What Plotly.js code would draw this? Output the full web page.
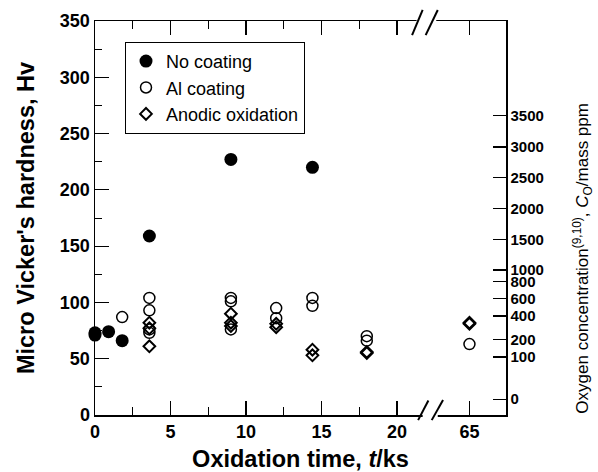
<!DOCTYPE html>
<html><head><meta charset="utf-8">
<script src="https://cdn.plot.ly/plotly-3.0.1.min.js"></script>
<style>html,body{margin:0;padding:0;background:#fff}#chart{width:598px;height:472px}</style>
</head><body><div id="chart"></div>
<script>
// ---- data ----
const noCoatTime = [0, 0, 0.9, 1.8, 3.6, 9, 14.4];
const noCoatHv   = [73, 71, 74, 66, 159, 227, 220];
const alTime = [1.8, 3.6, 3.6, 3.6, 3.6, 9, 9, 9, 12, 12, 14.4, 14.4, 18, 18, 65];
const alHv   = [87, 104, 93, 76, 73, 104, 101, 76, 95, 86, 104, 97, 70, 66, 63];
const anTime = [3.6, 3.6, 3.6, 9, 9, 9, 12, 12, 14.4, 14.4, 18, 18, 65, 65];
const anHv   = [82, 77, 61, 90, 82, 79, 81, 78, 58, 53, 56, 55, 82, 81];
const seriesNames = ['No coating', 'Al coating', 'Anodic oxidation'];
const xTickLabels = [0, 5, 10, 15, 20, 65];
const xMinorTicks = [2.5, 7.5, 12.5, 17.5];
const hvTicks = [0, 50, 100, 150, 200, 250, 300, 350];
const hvMinorTicks = [25, 75, 125, 175, 225, 275, 325];
// right axis: oxygen concentration labels and the hardness level each sits at
const oxyTickLabels = ['0','100','200','400','600','800','1000','1500','2000','2500','3000','3500'];
const oxyTickHv     = [14, 51.5, 67.2, 87.9, 103.7, 118.4, 128.8, 156.1, 183.6, 210.8, 238.1, 265.9];

// broken time axis: everything past 20 ks is shifted left
const BREAK_AT = 20, BREAK_SHIFT = 40.2;
const bx = t => (t > BREAK_AT ? t - BREAK_SHIFT : t);

const FONT = 'Liberation Sans, Arial, Helvetica, sans-serif';

const traces = [
  {x: noCoatTime.map(bx), y: noCoatHv, name: seriesNames[0], mode: 'markers', type: 'scatter',
   cliponaxis: false, marker: {symbol: 'circle', size: 13, color: '#000'}},
  {x: alTime.map(bx), y: alHv, name: seriesNames[1], mode: 'markers', type: 'scatter',
   cliponaxis: false, marker: {symbol: 'circle-open', size: 11, color: '#000', line: {width: 1.5, color: '#000'}}},
  {x: anTime.map(bx), y: anHv, name: seriesNames[2], mode: 'markers', type: 'scatter',
   cliponaxis: false, marker: {symbol: 'diamond-open', size: 9, color: '#000', line: {width: 2, color: '#000'}}},
  {x: [null], y: [null], yaxis: 'y2', showlegend: false, hoverinfo: 'skip', mode: 'markers', type: 'scatter'}
];

const layout = {
  width: 598, height: 472,
  margin: {l: 95, r: 92, t: 21, b: 57},
  paper_bgcolor: '#fff', plot_bgcolor: '#fff',
  font: {family: FONT, color: '#000'},
  showlegend: true,
  legend: {x: 0.073, y: 0.947, xanchor: 'left', yanchor: 'top', bgcolor: '#fff',
           bordercolor: '#000', borderwidth: 1, font: {family: FONT, size: 18, color: '#000'},
           tracegroupgap: 0},
  xaxis: {
    range: [0, 27.22], tickmode: 'array', tickvals: xTickLabels.map(bx), ticktext: xTickLabels.map(String),
    ticks: 'inside', ticklen: 14, tickwidth: 1.2, tickcolor: '#000',
    showline: true, linecolor: '#000', linewidth: 1.5, mirror: 'ticks',
    showgrid: false, zeroline: false,
    minor: {tickmode: 'array', tickvals: xMinorTicks, ticks: 'inside', ticklen: 8, tickwidth: 1, tickcolor: '#000', showgrid: false},
    tickfont: {family: FONT, size: 18, weight: 'bold', color: '#000'},
    title: {text: 'Oxidation time, <i>t</i>/ks', font: {family: FONT, size: 23.5, weight: 'bold', color: '#000'}, standoff: 10}
  },
  yaxis: {
    range: [0, 350], tickmode: 'array', tickvals: hvTicks,
    ticks: 'inside', ticklen: 14, tickwidth: 1.2, tickcolor: '#000',
    showline: true, linecolor: '#000', linewidth: 1.5,
    showgrid: false, zeroline: false,
    minor: {tickmode: 'array', tickvals: hvMinorTicks, ticks: 'inside', ticklen: 7, tickwidth: 1, tickcolor: '#000', showgrid: false},
    tickfont: {family: FONT, size: 18, weight: 'bold', color: '#000'},
    title: {text: "Micro Vicker's hardness, Hv", font: {family: FONT, size: 23.5, weight: 'bold', color: '#000'}, standoff: 18}
  },
  yaxis2: {
    overlaying: 'y', side: 'right', anchor: 'x', range: [0, 350],
    tickmode: 'array', tickvals: oxyTickHv, ticktext: oxyTickLabels,
    ticks: 'inside', ticklen: 13, tickwidth: 1.2, tickcolor: '#000',
    showline: true, linecolor: '#000', linewidth: 1.5,
    showgrid: false, zeroline: false,
    tickfont: {family: FONT, size: 15, weight: 'bold', color: '#000'}
  },
  annotations: [{
    xref: 'paper', yref: 'paper', x: 1.186, y: 0.398, xanchor: 'center', yanchor: 'middle',
    textangle: -90, showarrow: false,
    text: 'Oxygen concentration<sup>(9,10)</sup>, <i>C</i><sub>O</sub>/mass ppm',
    font: {family: FONT, size: 17, color: '#000'}
  }],
  shapes: [
    // gaps in the frame at the break
    {type: 'rect', xref: 'x', yref: 'paper', x0: 21.7, x1: 22.7, y0: -0.012, y1: 0.012, fillcolor: '#fff', line: {width: 0}, layer: 'above'},
    {type: 'rect', xref: 'x', yref: 'paper', x0: 21.3, x1: 22.6, y0: 0.988, y1: 1.012, fillcolor: '#fff', line: {width: 0}, layer: 'above'},
    // break marks
    {type: 'line', xref: 'x', yref: 'paper', x0: 21.4, y0: -0.013, x1: 22.08, y1: 0.037, line: {color: '#000', width: 2}, layer: 'above'},
    {type: 'line', xref: 'x', yref: 'paper', x0: 22.3, y0: -0.013, x1: 23.05, y1: 0.038, line: {color: '#000', width: 2}, layer: 'above'},
    {type: 'line', xref: 'x', yref: 'paper', x0: 21.0, y0: 0.964, x1: 21.7, y1: 1.028, line: {color: '#000', width: 2}, layer: 'above'},
    {type: 'line', xref: 'x', yref: 'paper', x0: 21.9, y0: 0.964, x1: 22.7, y1: 1.028, line: {color: '#000', width: 2}, layer: 'above'}
  ]
};

Plotly.newPlot('chart', traces, layout, {displayModeBar: false, staticPlot: true});
</script>
</body></html>
